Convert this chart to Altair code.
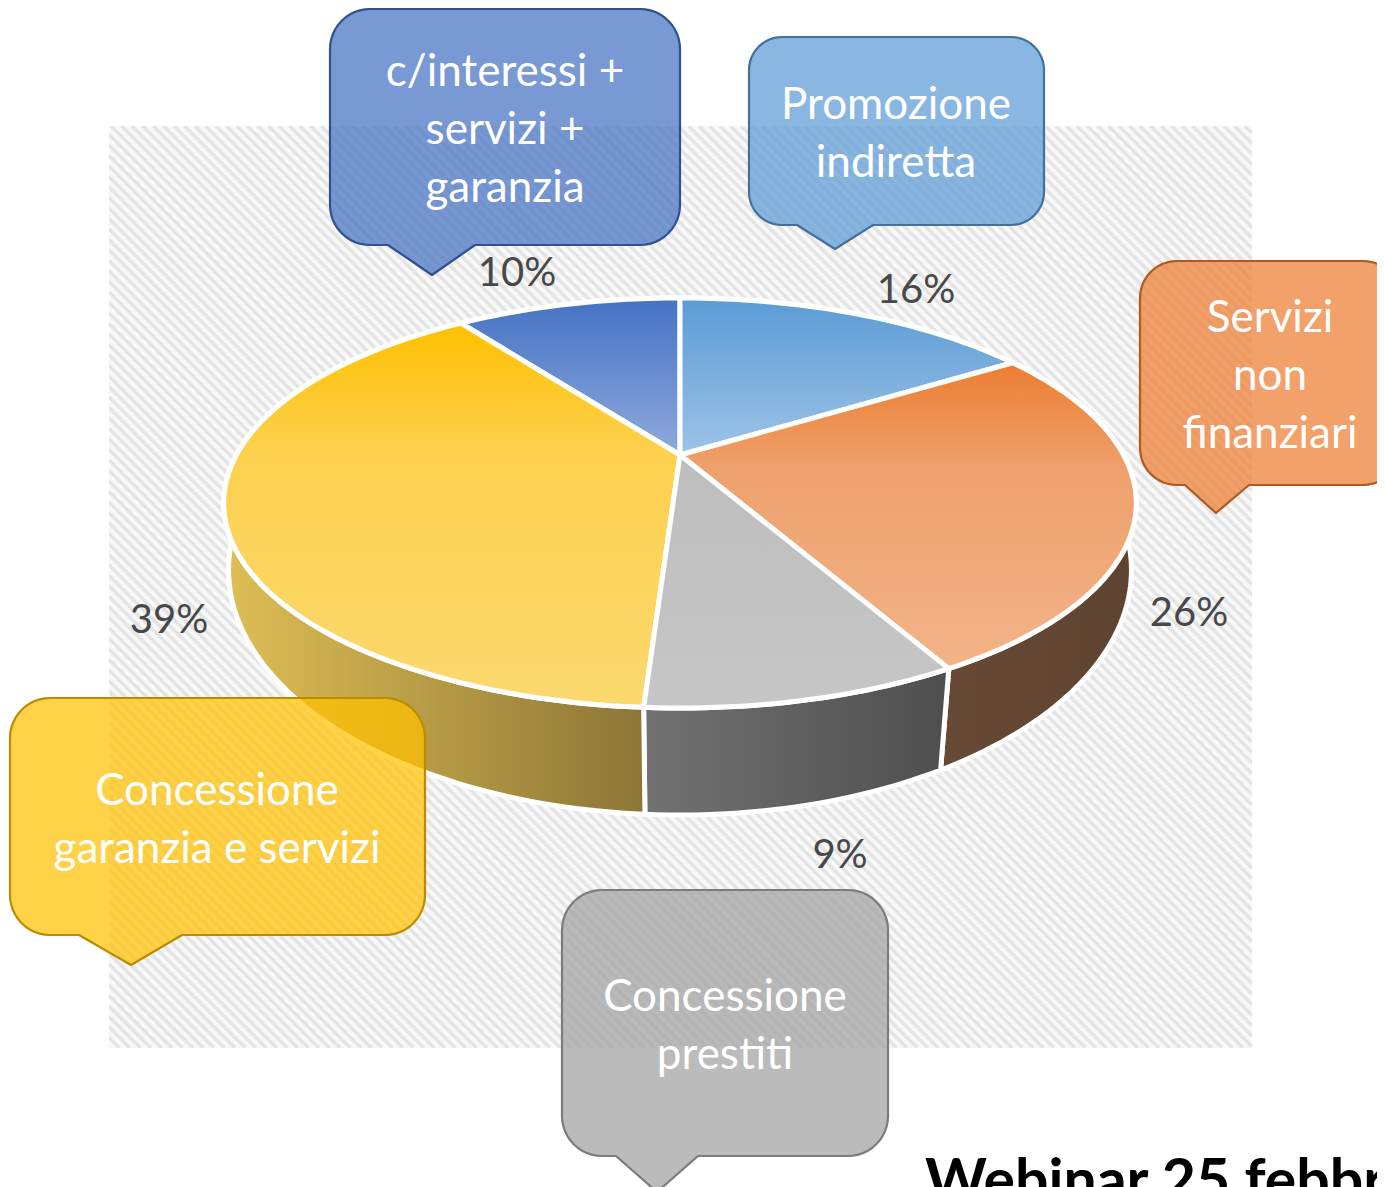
import math
import altair as alt
import pandas as pd

# ---- data ----
categories = ["Promozione indiretta", "Servizi non finanziari", "Concessione prestiti",
              "Concessione garanzia e servizi", "c/interessi + servizi + garanzia"]
shares = [16, 26, 9, 39, 10]
callout_lines = [["Promozione", "indiretta"], ["Servizi", "non", "finanziari"],
                 ["Concessione", "prestiti"], ["Concessione", "garanzia e servizi"],
                 ["c/interessi +", "servizi +", "garanzia"]]
footer = "Webinar 25 febbr"

# ---- styles and layout (page pixels) ----
top_stops = [[(0, "#5b9bd5"), (1, "#9dc3e6")],
             [(0, "#ed7d31"), (0.35, "#eea16d"), (1, "#f2b388")],
             [(0, "#bdbdbd"), (1, "#c6c6c6")],
             [(0, "#ffc000"), (0.33, "#fdd04e"), (1, "#fbd96f")],
             [(0, "#4472c4"), (1, "#8faadc")]]
side_from = ["#5b9bd5", "#674a35", "#727272", "#dfbe55", "#4472c4"]
side_to = ["#5b9bd5", "#5e4330", "#4e4e4e", "#8c7636", "#4472c4"]
box_fill = ["#5b9bd5", "#ed7d31", "#a1a1a1", "#ffc000", "#4472c4"]
box_line = ["#41719c", "#ae5a21", "#7c7c7c", "#bc8c00", "#2f528f"]
# left, right, top, bottom, radius, pointer left, tip x, tip y, pointer right
boxes = [(749, 1044, 37, 225, 33, 797, 835, 249, 873),
         (1140, 1400, 261, 485, 37, 1185, 1216, 513, 1249),
         (562, 888, 890, 1156, 40, 616, 657, 1192, 698),
         (10, 425, 698, 935, 40, 79, 131, 965, 182),
         (330, 680, 9, 245, 40, 388, 432, 275, 475)]
text_x = [896, 1270, 725, 217, 505]
text_base = [119, 332, 1011, 805, 86]
line_gap = 58
pct_pos = [(916, 303), (1189, 626), (840, 868), (169, 633), (517, 286)]
CX, CY, AX, AY, K = 680, 455, 443.6, 193.8, 0.234   # perspective of the pie's top
LOW_CY, LOW_AY, LOW_SHRINK, LOW_K = 518.6, 234.2, 0.995, 0.21  # rim of the underside
PAGE_H, M = 1187, 8
RIGHT = 1377  # the page's flex box keeps the drawing inside its two 8px margins
HX0, HX1, HY0, HY1 = 109, 1252, 126, 1048
HATCH_STEP, HATCH_W = 10.5, 3.6

xs = alt.Scale(domain=[M, RIGHT], range=[0, RIGHT - M], nice=False, zero=False)
ys = alt.Scale(domain=[PAGE_H, M], range=[PAGE_H - M, 0], nice=False, zero=False)
X = alt.X("x:Q", scale=xs, axis=None)
Y = alt.Y("y:Q", scale=ys, axis=None)


def project(turn, cy=CY, ay=AY, shrink=1.0, k=K):
    a = 2 * math.pi * turn
    u, v = math.sin(a), -math.cos(a)
    w = 1 - k * v
    return CX + shrink * AX * u / w, cy + ay * v / w


def poly(points, fill, stroke, width, fill_opacity=1.0):
    rows = [{"x": p[0], "y": p[1], "ord": i} for i, p in enumerate(points + points[:1])]
    return alt.Chart(pd.DataFrame(rows)).mark_line(
        fill=fill, fillOpacity=fill_opacity, stroke=stroke, strokeWidth=width,
        strokeJoin="round", interpolate="linear", clip=True
    ).encode(x=X, y=Y, order=alt.Order("ord:Q"))


def grad(stops, vertical):
    return alt.LinearGradient(
        gradient="linear", x1=0, y1=0, x2=0 if vertical else 1, y2=1 if vertical else 0,
        stops=[alt.GradientStop(offset=o, color=c) for o, c in stops])


def callout(b):
    l, r, t, bt, rad, p0, px, py, p1 = b
    pts = []
    def arc(cx, cy, a0):
        for i in range(13):
            a = math.radians(a0 + 90 * i / 12)
            pts.append((cx + rad * math.cos(a), cy + rad * math.sin(a)))
    arc(l + rad, t + rad, 180)
    arc(r - rad, t + rad, 270)
    arc(r - rad, bt - rad, 0)
    pts += [(p1, bt), (px, py), (p0, bt)]
    arc(l + rad, bt - rad, 90)
    return pts


layers = []
# hatched chart-area background
bg = pd.DataFrame([{"x": HX0, "x2": HX1, "y": HY0, "y2": HY1}])
layers.append(alt.Chart(bg).mark_rect(color="#f8f8f8").encode(x=X, x2="x2:Q", y=Y, y2="y2:Q"))
rules = []
c = HX0 - HY1
while c < HX1 - HY0:
    xa = max(HX0, HY0 + c)
    xb = min(HX1, HY1 + c)
    if xb > xa:
        rules.append({"x": xa, "y": xa - c, "x2": xb, "y2": xb - c})
    c += HATCH_STEP
layers.append(alt.Chart(pd.DataFrame(rules)).mark_rule(color="#e4e4e4", strokeWidth=HATCH_W).encode(
    x=X, x2="x2:Q", y=Y, y2="y2:Q"))
masks = pd.DataFrame([
    {"x": M, "x2": HX0, "y": M, "y2": PAGE_H},
    {"x": HX1, "x2": RIGHT, "y": M, "y2": PAGE_H},
    {"x": M, "x2": RIGHT, "y": M, "y2": HY0},
    {"x": M, "x2": RIGHT, "y": HY1, "y2": PAGE_H}])
layers.append(alt.Chart(masks).mark_rect(color="white").encode(x=X, x2="x2:Q", y=Y, y2="y2:Q"))

# slice turn ranges
total = sum(shares)
edges = [0.0]
for s in shares:
    edges.append(edges[-1] + s / total)

# sides first, tops over them
for i in range(len(shares)):
    n = max(8, int(shares[i] * 3))
    turns = [edges[i] + (edges[i + 1] - edges[i]) * j / n for j in range(n + 1)]
    upper = [project(t) for t in turns]
    lower = [project(t, LOW_CY, LOW_AY, LOW_SHRINK, LOW_K) for t in reversed(turns)]
    layers.append(poly(upper + lower, grad([(0, side_from[i]), (1, side_to[i])], False), "white", 5))
for i in [4, 0, 1, 3, 2]:
    n = max(8, int(shares[i] * 3))
    turns = [edges[i] + (edges[i + 1] - edges[i]) * j / n for j in range(n + 1)]
    pts = [(CX, CY)] + [project(t) for t in turns]
    layers.append(poly(pts, grad(top_stops[i], True), "white", 5))

# percent labels
pct = pd.DataFrame([{"x": p[0], "y": p[1], "t": f"{s}%"} for p, s in zip(pct_pos, shares)])
layers.append(alt.Chart(pct).mark_text(font="Lato", fontSize=40, color="#484848", align="center",
                                       baseline="alphabetic").encode(x=X, y=Y, text="t:N"))

# callouts
for b, f, s in zip(boxes, box_fill, box_line):
    layers.append(poly(callout(b), f, s, 2.2, 0.72))
rows = []
for lines, tx, tb in zip(callout_lines, text_x, text_base):
    for k, ln in enumerate(lines):
        rows.append({"x": tx, "y": tb + k * line_gap, "t": ln})
layers.append(alt.Chart(pd.DataFrame(rows)).mark_text(font="Lato", fontSize=44, color="white",
                                                      align="center", baseline="alphabetic").encode(
    x=X, y=Y, text="t:N"))

# footer cut off by the page edge
foot = pd.DataFrame([{"x": 925, "y": 1201, "t": footer}])
layers.append(alt.Chart(foot).mark_text(font="Lato", fontSize=59, fontWeight="bold", color="black",
                                        align="left", baseline="alphabetic").encode(x=X, y=Y, text="t:N"))

chart = alt.layer(*layers).properties(
    width=RIGHT - M, height=PAGE_H - M, padding=0,
    autosize=alt.AutoSizeParams(type="none")
).configure_view(stroke=None)

chart.save("out.html", embed_options={"renderer": "svg", "actions": False})
